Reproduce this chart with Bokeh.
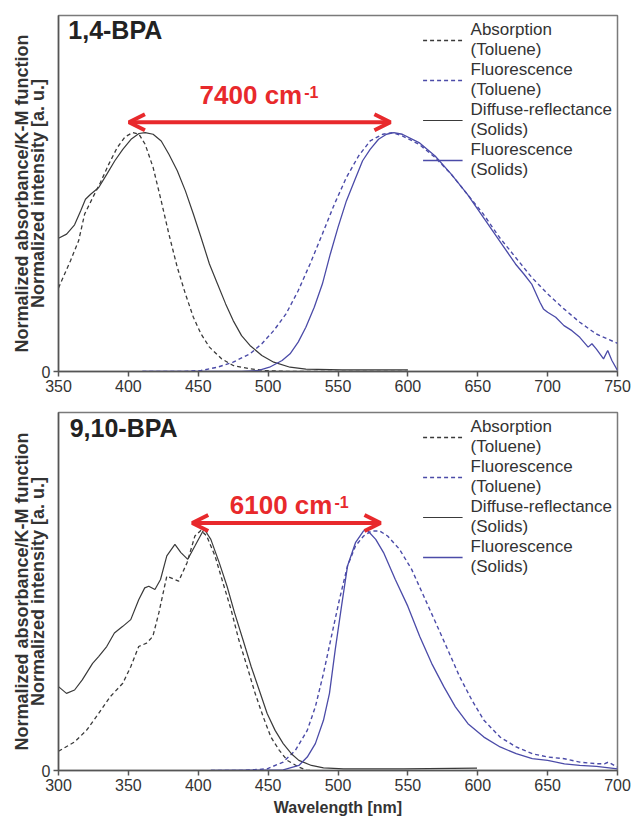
import math
from bokeh.plotting import figure
from bokeh.models import Range1d, FixedTicker, Label, Arrow, OpenHead, Legend, LegendItem
from bokeh.layouts import column
from bokeh.embed import file_html
from bokeh.resources import INLINE

# ---------------- data: 1,4-BPA (top) ----------------
top_abs_x = [350, 358.6, 364.4, 368.7, 374.5, 380, 386, 392, 397.6, 403, 407.6, 412, 417.7, 423.5, 429, 435,
             440.8, 446.5, 452, 458, 466.7, 475, 487, 498, 510, 530, 560, 600]
top_abs_y = [0.35, 0.464, 0.547, 0.659, 0.728, 0.791, 0.868, 0.937, 0.982, 1.0, 0.993, 0.951, 0.854, 0.714,
             0.575, 0.436, 0.325, 0.227, 0.157, 0.102, 0.053, 0.025, 0.011, 0.004, 0.001, 0, 0, 0]

top_dr_x = [350, 355.8, 361.5, 365.9, 369.3, 373, 378.8, 384.6, 390.3, 396, 401.9, 407.6, 412, 417.7, 423.5,
            429, 435, 440.8, 446.5, 452, 458, 463.8, 469.6, 475, 481, 487, 495.5, 504, 515.7, 527, 553, 600]
top_dr_y = [0.558, 0.575, 0.614, 0.673, 0.721, 0.742, 0.770, 0.826, 0.882, 0.930, 0.972, 0.996, 1.0, 0.993,
            0.965, 0.909, 0.840, 0.756, 0.659, 0.561, 0.450, 0.366, 0.283, 0.213, 0.150, 0.109, 0.067, 0.039,
            0.018, 0.010, 0.007, 0.007]

top_flt_x = [410, 438, 452, 463.8, 475, 487, 495.5, 504, 512.8, 521.5, 530, 538.8, 547.4, 556, 564.7, 573, 582,
             589, 596, 608, 619.5, 631, 642.5, 654, 665.6, 677, 688.6, 700, 711.7, 723, 734.8, 750]
top_flt_y = [0, 0, 0.004, 0.018, 0.039, 0.074, 0.116, 0.171, 0.241, 0.338, 0.450, 0.575, 0.700, 0.812, 0.902,
             0.965, 0.993, 1.0, 0.986, 0.951, 0.896, 0.826, 0.742, 0.659, 0.561, 0.478, 0.394, 0.325, 0.262,
             0.206, 0.157, 0.118]

top_fls_x = [410, 481, 492.7, 501, 510, 515.7, 521.5, 527, 533, 538.8, 544.5, 550, 556, 561.8, 567.6, 573, 579,
             584.7, 590, 596, 608, 619.5, 631, 642.5, 654, 665.6, 677, 683, 688.6, 694.5, 697, 700, 705.8, 711.7,
             717.4, 723, 729, 731.7, 734.8, 740, 743, 746, 750]
top_fls_y = [0, 0, 0.004, 0.018, 0.046, 0.074, 0.123, 0.185, 0.269, 0.366, 0.492, 0.603, 0.714, 0.798, 0.882,
             0.930, 0.972, 0.993, 1.0, 0.993, 0.958, 0.902, 0.826, 0.742, 0.645, 0.547, 0.450, 0.408, 0.366,
             0.290, 0.262, 0.248, 0.227, 0.192, 0.171, 0.143, 0.102, 0.116, 0.095, 0.053, 0.088, 0.046, 0.004]

# ---------------- data: 9,10-BPA (bottom) ----------------
bot_abs_x = [300, 311.5, 320, 328.7, 337, 346, 351.7, 357.4, 363, 367.5, 371.8, 377.5, 380.4, 386, 392, 397.6,
             402, 406, 412, 417.7, 423.5, 429, 435, 440.7, 446.5, 452, 458, 463.7, 472, 478, 480]
bot_abs_y = [0.08, 0.119, 0.167, 0.237, 0.307, 0.363, 0.432, 0.516, 0.530, 0.558, 0.656, 0.809, 0.802, 0.788,
             0.865, 0.976, 1.0, 0.976, 0.893, 0.781, 0.669, 0.544, 0.432, 0.321, 0.223, 0.139, 0.084, 0.042,
             0.014, 0, 0]

bot_dr_x = [300, 305.7, 311.5, 317, 324.4, 328.7, 334.5, 340, 346, 351.7, 357.4, 361.7, 364.6, 369, 373, 377.5,
            383.3, 387.6, 392.5, 397.6, 403.4, 404.8, 409, 415, 420.6, 426, 432, 437.9, 443.6, 449.3, 455, 460.8,
            466.6, 472, 481, 489.6, 504, 547, 599.5]
bot_dr_y = [0.349, 0.321, 0.335, 0.377, 0.446, 0.474, 0.516, 0.572, 0.600, 0.628, 0.711, 0.760, 0.767, 0.753,
            0.795, 0.893, 0.941, 0.907, 0.879, 0.934, 0.997, 1.0, 0.962, 0.865, 0.767, 0.656, 0.544, 0.432,
            0.335, 0.237, 0.167, 0.112, 0.070, 0.042, 0.021, 0.011, 0.007, 0.007, 0.010]

bot_flt_x = [409, 432, 449.3, 460.8, 469.5, 478, 483.8, 489.6, 495.3, 501, 506.8, 512.5, 518.3, 524, 529.8,
             535.5, 544, 552.7, 561.4, 570, 578.6, 587, 595.8, 604.4, 616, 627.5, 639, 650, 662, 673, 685,
             690.6, 693.5, 700]
bot_flt_y = [0, 0, 0.007, 0.035, 0.084, 0.167, 0.265, 0.404, 0.558, 0.711, 0.851, 0.934, 0.976, 0.997, 0.997,
             0.976, 0.921, 0.837, 0.725, 0.614, 0.502, 0.391, 0.293, 0.209, 0.139, 0.098, 0.070, 0.056, 0.049,
             0.035, 0.028, 0.028, 0.035, 0.014]

bot_fls_x = [409, 460.8, 472, 478, 483.8, 489.6, 493.9, 498, 502.5, 506.8, 512.5, 518.3, 521, 527, 532.6, 541,
             550, 558.5, 567, 575.7, 584, 593, 604.4, 616, 627.5, 639, 650, 662, 673, 685, 700]
bot_fls_y = [0, 0.003, 0.021, 0.056, 0.112, 0.209, 0.321, 0.502, 0.683, 0.851, 0.948, 0.997, 1.0, 0.962, 0.907,
             0.795, 0.683, 0.558, 0.446, 0.349, 0.265, 0.195, 0.139, 0.098, 0.070, 0.049, 0.042, 0.028, 0.021,
             0.017, 0.007]

legend_labels = ["Absorption\n(Toluene)", "Fluorescence\n(Toluene)",
                 "Diffuse-reflectance\n(Solids)", "Fluorescence\n(Solids)"]
top_title = "1,4-BPA"
bot_title = "9,10-BPA"
top_shift = "7400 cm"
bot_shift = "6100 cm"
sup_text = "-1"
top_ticks = [350, 400, 450, 500, 550, 600, 650, 700, 750]
bot_ticks = [300, 350, 400, 450, 500, 550, 600, 650, 700]
ylabel = "Normalized absorbance/K-M function\nNormalized intensity [a. u.]"
xlabel = "Wavelength [nm]"

# annotation anchors (data units)
top_arrow = (400.4, 587.5, 1.043)
bot_arrow = (395.7, 530.4, 1.030)
top_shift_pos = (524.4, 1.158)
bot_shift_pos = (496.0, 1.107)
top_title_pos = (357.0, 1.431)
bot_title_pos = (308.0, 1.425)

FONT = "Liberation Sans"
TXT = "#333333"
BLACK = "#3a3a3a"
BLUE = "#4b4ba8"
RED = "#e8292c"
FW = 559
YMAX = 1.49


def panel(xr, ticks, series, title, title_pos, shift, shift_pos, arrow, fh, top_b, bottom_b, with_xlabel):
    p = figure(frame_width=FW, frame_height=fh, x_range=Range1d(*xr), y_range=Range1d(0, YMAX),
               output_backend="svg", toolbar_location=None,
               min_border_left=58, min_border_right=15, min_border_top=top_b, min_border_bottom=bottom_b)
    p.xgrid.visible = False
    p.ygrid.visible = False
    p.outline_line_color = "#7a7a7a"
    p.outline_line_width = 1.5
    p.background_fill_color = "white"
    p.border_fill_color = "white"

    styles = [dict(line_color=BLACK, line_dash="4 3", line_width=1.3),
              dict(line_color=BLUE, line_dash="4 3", line_width=1.4),
              dict(line_color=BLACK, line_width=1.2),
              dict(line_color=BLUE, line_width=1.3)]
    rs = []
    for (xs, ys), st in zip(series, styles):
        rs.append(p.line(xs, ys, **st))

    items = [LegendItem(label=lab, renderers=[r]) for lab, r in zip(legend_labels, rs)]
    leg = Legend(items=items, location="top_right", margin=5, padding=4, spacing=-2,
                 glyph_width=40, glyph_height=16, label_standoff=8,
                 border_line_color=None, background_fill_alpha=0,
                 label_text_font=FONT, label_text_font_size="17px", label_text_line_height=0.9,
                 label_text_color=TXT)
    p.add_layout(leg)

    for ax in (p.xaxis[0], p.yaxis[0]):
        ax.axis_line_color = "#555555"
        ax.axis_line_width = 1.5
        ax.major_tick_line_color = "#555555"
        ax.major_tick_line_width = 1.5
        ax.major_tick_out = 5
        ax.major_tick_in = 0
        ax.minor_tick_line_color = None
        ax.major_label_text_font = FONT
        ax.major_label_text_font_size = "16px"
        ax.major_label_text_color = TXT
        ax.major_label_standoff = 3
    p.xaxis.ticker = FixedTicker(ticks=ticks)
    p.yaxis.ticker = FixedTicker(ticks=[0])
    if with_xlabel:
        p.xaxis.axis_label = xlabel
        p.xaxis.axis_label_text_font = FONT
        p.xaxis.axis_label_text_font_style = "bold"
        p.xaxis.axis_label_text_font_size = "16px"
        p.xaxis.axis_label_text_color = TXT
        p.xaxis.axis_label_standoff = 5

    p.yaxis.axis_label = ylabel
    p.yaxis.axis_label_text_font = FONT
    p.yaxis.axis_label_text_font_style = "bold"
    p.yaxis.axis_label_text_font_size = "18px"
    p.yaxis.axis_label_text_color = TXT
    p.yaxis.axis_label_text_line_height = 0.8
    p.yaxis.axis_label_standoff = -9

    p.add_layout(Label(x=title_pos[0], y=title_pos[1], text=title, text_font=FONT, text_font_style="bold",
                       text_font_size="25px", text_color="#222222", text_baseline="middle"))
    p.add_layout(Label(x=shift_pos[0], y=shift_pos[1], text=shift, text_font=FONT, text_font_style="bold",
                       text_font_size="26px", text_color=RED, text_align="right", text_baseline="middle"))
    p.add_layout(Label(x=shift_pos[0], y=shift_pos[1], x_offset=2, y_offset=3, text=sup_text, text_font=FONT,
                       text_font_style="bold", text_font_size="16px", text_color=RED, text_align="left",
                       text_baseline="middle"))
    p.add_layout(Arrow(start=OpenHead(size=16, line_color=RED, line_width=4),
                       end=OpenHead(size=16, line_color=RED, line_width=4),
                       x_start=arrow[0], x_end=arrow[1], y_start=arrow[2], y_end=arrow[2],
                       line_color=RED, line_width=4))
    return p


p1 = panel((350, 750), top_ticks,
           [(top_abs_x, top_abs_y), (top_flt_x, top_flt_y), (top_dr_x, top_dr_y), (top_fls_x, top_fls_y)],
           top_title, top_title_pos, top_shift, top_shift_pos, top_arrow, 356, 15, 33, False)
p2 = panel((300, 700), bot_ticks,
           [(bot_abs_x, bot_abs_y), (bot_flt_x, bot_flt_y), (bot_dr_x, bot_dr_y), (bot_fls_x, bot_fls_y)],
           bot_title, bot_title_pos, bot_shift, bot_shift_pos, bot_arrow, 358, 8, 48, True)

layout = column(p1, p2, spacing=0)
open("out.html", "w").write(file_html(layout, INLINE))
